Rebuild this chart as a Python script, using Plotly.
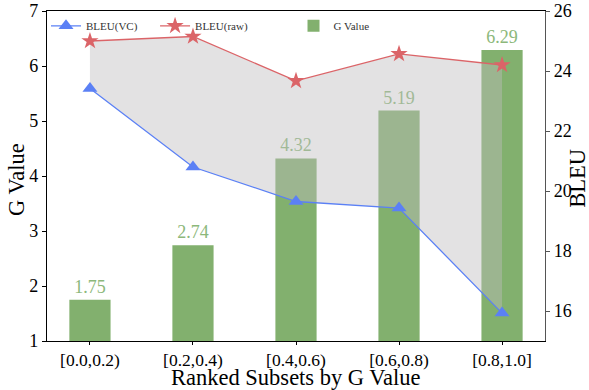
import plotly.graph_objects as go

categories = ["[0.0,0.2)", "[0.2,0.4)", "[0.4,0.6)", "[0.6,0.8)", "[0.8,1.0]"]
g_values = [1.75, 2.74, 4.32, 5.19, 6.29]
bleu_vc = [23.42, 20.8, 19.65, 19.43, 15.93]
bleu_raw = [25.0, 25.15, 23.67, 24.57, 24.2]

FONT = "Liberation Serif, Times New Roman, serif"
GREEN = "#82b06e"
BLUE = "#5b80f5"
RED = "#db6468"

xs = list(range(len(categories)))

fig = go.Figure()

fig.add_trace(go.Bar(
    x=xs, y=g_values, width=0.4, marker=dict(color=GREEN, line=dict(width=0)),
    name="G Value", text=[f"{v:.2f}" for v in g_values], textposition="outside",
    textfont=dict(family=FONT, size=18, color="#8cb87a"), constraintext="none",
    cliponaxis=False, legend="legend3", yaxis="y",
))

# shaded region between the two BLEU curves
fig.add_trace(go.Scatter(
    x=xs + xs[::-1], y=bleu_raw + bleu_vc[::-1], fill="toself",
    fillcolor="rgba(190,187,191,0.43)", line=dict(width=0), mode="lines",
    showlegend=False, hoverinfo="skip", yaxis="y2",
))

fig.add_trace(go.Scatter(
    x=xs, y=bleu_vc, mode="lines+markers", name="BLEU(VC)",
    line=dict(color=BLUE, width=1.3),
    marker=dict(symbol="triangle-up", size=13, color=BLUE),
    yaxis="y2", legend="legend", cliponaxis=False,
))
fig.add_trace(go.Scatter(
    x=xs, y=bleu_raw, mode="lines+markers", name="BLEU(raw)",
    line=dict(color=RED, width=1.3),
    marker=dict(symbol="star", size=13, color=RED),
    yaxis="y2", legend="legend2", cliponaxis=False,
))

leg_common = dict(orientation="h", yanchor="middle", xanchor="left", y=0.955,
                  bgcolor="rgba(0,0,0,0)", font=dict(family=FONT, size=11, color="#333333"))

title_font = dict(family=FONT, size=22.5, color="black")

fig.update_layout(
    width=589, height=390,
    margin=dict(l=47, r=44, t=11, b=49, autoexpand=False),
    plot_bgcolor="white", paper_bgcolor="white",
    font=dict(family=FONT, size=18, color="black"),
    barmode="overlay",
    xaxis=dict(
        range=[-0.417, 4.417], tickmode="array", tickvals=xs, ticktext=categories,
        showline=True, linecolor="black", linewidth=1.2, mirror=True,
        ticks="outside", ticklen=3, tickcolor="black", showgrid=False, zeroline=False,
        tickfont=dict(family=FONT, size=17.5, color="black"),
    ),
    yaxis=dict(
        range=[1, 7], tickvals=[1, 2, 3, 4, 5, 6, 7],
        showline=True, linecolor="black", linewidth=1.2,
        ticks="outside", ticklen=4, tickcolor="black", showgrid=False, zeroline=False,
        tickfont=dict(family=FONT, size=18, color="black"),
    ),
    yaxis2=dict(
        range=[15, 26], tickvals=[16, 18, 20, 22, 24, 26], overlaying="y", side="right",
        showline=True, linecolor="#555555", linewidth=1.2,
        ticks="outside", ticklen=4, tickcolor="#555555", showgrid=False, zeroline=False,
        tickfont=dict(family=FONT, size=18, color="black"),
    ),
    legend=dict(x=-0.002, **leg_common),
    legend2=dict(x=0.217, **leg_common),
    legend3=dict(x=0.495, **leg_common),
    annotations=[
        dict(text="Ranked Subsets by G Value", xref="paper", yref="paper", x=0.5, y=-0.112,
             xanchor="center", yanchor="middle", showarrow=False, font=title_font),
        dict(text="G Value", xref="paper", yref="paper", x=-0.060, y=0.488, textangle=-90,
             xanchor="center", yanchor="middle", showarrow=False, font=title_font),
        dict(text="BLEU", xref="paper", yref="paper", x=1.066, y=0.494, textangle=-90,
             xanchor="center", yanchor="middle", showarrow=False, font=title_font),
    ],
)

fig.write_html("out.html", config={"displayModeBar": False},
               post_script="document.body.style.margin='0px';")
